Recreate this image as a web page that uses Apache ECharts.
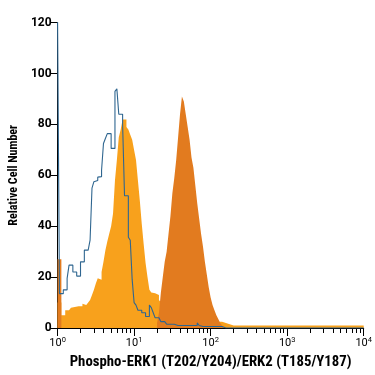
<!DOCTYPE html>
<html>
<head>
<meta charset="utf-8">
<script src="https://cdn.jsdelivr.net/npm/echarts@6/dist/echarts.min.js"></script>
<style>
html,body{margin:0;padding:0;background:#fff;}
#chart{width:375px;height:375px;}
</style>
</head>
<body>
<div id="chart"></div>
<script>
// Histogram channels: log10(intensity) from 0 to 4, each channel 0.025 decades wide
const channelStart = 0;
const channelWidth = 0.025;
const xTickValues = [0, 1, 2, 3, 4];          // 10^0 ... 10^4
const yTickValues = [0, 20, 40, 60, 80, 100, 120];

// Blue outline histogram (control)
const controlCounts = [
 122,13.5,13.5,15,15,19.5,24.7,24.7,22,22,
 20.4,20.4,26,26,30.6,30.6,30.6,34.5,55,57.5,
 58,59.3,59.5,62,72.5,74.5,76.4,76.4,70.6,70.6,
 93,94,84,84,80,52,52,35.7,34.5,19,
 10,9,7,7,6,6,4.5,4.5,9,8,
 6,4,4,4,2.5,2.5,2.5,1.5,1.5,1.5,
 1.5,1.5,1,1,1,1,1,1,1,1,
 1,1,1,2,1,0.6,0.6,0.6,0.6,0.6,
 0.6,0.6,0.6,0.6,0.6,0.6,0,0,0,0,
 0,0,0,0,0,0,0,0,0,0,
 0,0,0,0,0,0,0,0,0,0,
 0,0,0,0,0,0,0,0,0,0,
 0,0,0,0,0,0,0,0,0,0,
 0,0,0,0,0,0,0,0,0,0,
 0,0,0,0,0,0,0,0,0,0,
 0,0,0,0,0,0,0,0,0,0
];

// Light orange filled histogram
const lowCounts = [
 10,10,5,5,7,7,7.5,8,8.3,8,
 8.5,9,8.5,9.5,9,9.5,10,11,13,15,
 17.5,19.6,19,22,26,30.6,34,37,40,45,
 58,66,75,78,82,82,79,78,76,74,
 70,66,58,50,41,33,25.5,20,15,14,
 13.7,14,13,11,10,9,8,7.5,7,6.5,
 6,5.5,5,4.5,4,4,3.5,3.5,3,3,
 3,3,2.5,2.5,2.5,2.5,2.5,2.5,2.5,2.5,
 2.5,2.5,2.5,2.5,2.5,2.5,2,2,1.5,1.5,
 1.2,1,1,1,1,1,1,1,1,1,
 1,1,1,1,1,1,1,1,1,1,
 1,1,1,1,1,1,1,1,1,1,
 1,1,1,1,1,1,1,1,1,1,
 1,1,1,1,1,1,1,1,1,1,
 1,1,1,1,1,1,1,1,1,1,
 1,1,1,1,1,1,1,1,1,1
];

// Dark orange filled histogram
const highCounts = [
 27,27,0,0,0,0,0,0,0,0,
 0,0,0,0,0,0,0,0,0,0,
 0,0,0,0,0,0,0,0,0,0,
 0,0,0,0,0,0,0,0,0,0,
 0,0,0,0,0,0,0,0,0,0,
 0,0,2,6,14,20,26,30,37,44,
 53,59,66,75,84,91,89,84,79,74,
 67,63,56,49,43,37,32,26,21,16,
 12,9,7,5,3.5,2,1,0,0,0,
 0,0,0,0,0,0,0,0,0,0,
 0,0,0,0,0,0,0,0,0,0,
 0,0,0,0,0,0,0,0,0,0,
 0,0,0,0,0,0,0,0,0,0,
 0,0,0,0,0,0,0,0,0,0,
 0,0,0,0,0,0,0,0,0,0,
 0,0,0,0,0,0,0,0,0,0
];

const xAxisTitle = 'Phospho-ERK1 (T202/Y204)/ERK2 (T185/Y187)';
const yAxisTitle = 'Relative Cell Number';

function toSteps(counts) {
  const pts = counts.map((c, i) => [channelStart + i * channelWidth, c]);
  pts.push([channelStart + counts.length * channelWidth, counts[counts.length - 1]]);
  return pts;
}

const minorTicks = [];
for (let d = 0; d < 4; d++) {
  for (let m = 2; m <= 9; m++) minorTicks.push(d + Math.log10(m));
}

const FONT = 'Roboto, "Liberation Sans", sans-serif';
const NARROW = '"Liberation Sans Narrow", "Roboto Condensed", Roboto, sans-serif';
const chart = echarts.init(document.getElementById('chart'), null, {renderer: 'canvas'});
chart.setOption({
  animation: false,
  backgroundColor: '#ffffff',
  grid: {left: 56, right: 7, top: 22.7, bottom: 46},
  xAxis: [{
    type: 'value', min: 0, max: 4, interval: 1,
    axisLine: {show: true, lineStyle: {color: '#000', width: 1}},
    axisTick: {show: true, length: 8, lineStyle: {color: '#000'}},
    splitLine: {show: false},
    axisLabel: {
      margin: 8,
      formatter: v => '{b|10}{s|' + v + '}',
      rich: {
        b: {fontFamily: FONT, fontSize: 11, color: '#000', fontWeight: 'normal'},
        s: {fontFamily: FONT, fontSize: 7.5, color: '#000', verticalAlign: 'top', padding: [0, 0, 6, 0]}
      }
    },
    name: xAxisTitle, nameLocation: 'middle', nameGap: 27,
    nameTextStyle: {fontFamily: NARROW, fontSize: 14.8, fontWeight: 'bold', color: '#000'}
  }, {
    type: 'value', min: 0, max: 4, position: 'bottom',
    axisLine: {show: false},
    axisTick: {show: true, length: 5, customValues: minorTicks, lineStyle: {color: '#000'}},
    axisLabel: {show: false},
    splitLine: {show: false}
  }],
  yAxis: {
    type: 'value', min: 0, max: 120, interval: 20,
    axisLine: {show: true, lineStyle: {color: '#000', width: 1}},
    axisTick: {show: true, length: 7, lineStyle: {color: '#000'}},
    splitLine: {show: false},
    axisLabel: {margin: 6, fontFamily: FONT, fontSize: 12, fontWeight: 'bold', color: '#000'},
    name: yAxisTitle, nameLocation: 'middle', nameGap: 37,
    nameTextStyle: {fontFamily: NARROW, fontSize: 12, fontWeight: 'bold', color: '#000'}
  },
  series: [{
    type: 'line', step: 'end', symbol: 'none', data: toSteps(lowCounts),
    lineStyle: {width: 0}, areaStyle: {color: '#F8A11C', opacity: 1}, z: 2
  }, {
    type: 'line', step: 'end', symbol: 'none', data: toSteps(highCounts),
    lineStyle: {width: 0}, areaStyle: {color: '#E27B1F', opacity: 1}, z: 3
  }, {
    type: 'line', step: 'end', symbol: 'none', data: toSteps(controlCounts),
    lineStyle: {width: 1.1, color: '#2F6690'}, z: 4
  }]
});
</script>
</body>
</html>
